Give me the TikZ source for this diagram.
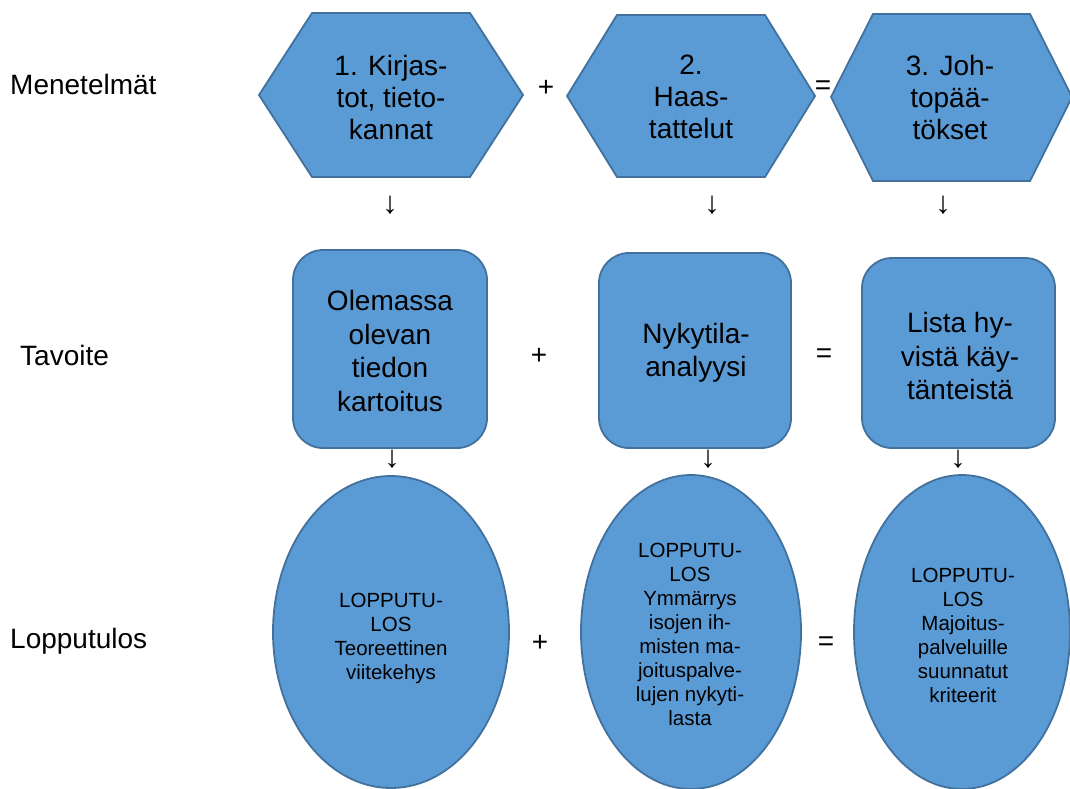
\documentclass[tikz,border=0pt]{standalone}
\usepackage{fontspec}
\setmainfont{Liberation Sans}
\definecolor{boxfill}{HTML}{5B9BD5}
\definecolor{boxline}{HTML}{41719C}
\begin{document}
\begin{tikzpicture}[x=1pt,y=-1pt,
  shapestyle/.style={fill=boxfill,draw=boxline,line width=1.8pt},
  bigtext/.style={font=\fontsize{28}{32}\selectfont,align=center,inner sep=0pt},
  midtext/.style={font=\fontsize{28}{33.5}\selectfont,align=center,inner sep=0pt},
  smalltext/.style={font=\fontsize{20.5}{24}\selectfont,align=center,inner sep=0pt},
  sidelabel/.style={font=\fontsize{28}{32}\selectfont,anchor=west,inner sep=0pt},
  signtext/.style={font=\fontsize{28}{32}\selectfont,inner sep=0pt},
  arrowglyph/.style={font=\fontsize{31}{34}\selectfont,inner sep=0pt}]
\useasboundingbox (0,0) rectangle (1070,789);
\clip (0,0) rectangle (1070,789);

% hexagons
\draw[shapestyle] (259,95) -- (312,13) -- (470,13) -- (523,95) -- (470,177) -- (312,177) -- cycle;
\draw[shapestyle] (567,96) -- (617,15) -- (765,15) -- (815,96) -- (765,177) -- (617,177) -- cycle;
\draw[shapestyle] (831,97) -- (873,14) -- (1030,14) -- (1072,97) -- (1030,181) -- (873,181) -- cycle;
\node[bigtext] (h1) at (391,97) {1. Kirjas-\\tot, tieto-\\kannat};
\node[bigtext] (h2) at (691,97) {2.\\Haas-\\tattelut};
\node[bigtext] (h3) at (950,97) {3. Joh-\\topää-\\tökset};

% rounded boxes
\draw[shapestyle,rounded corners=30pt] (293,250) rectangle (487,448);
\draw[shapestyle,rounded corners=30pt] (599,253) rectangle (791,448);
\draw[shapestyle,rounded corners=30pt] (862,258) rectangle (1055,448);
\node[midtext] (r1) at (390,351) {Olemassa\\olevan\\tiedon\\kartoitus};
\node[midtext] (r2) at (696,353) {Nykytila-\\analyysi};
\node[midtext] (r3) at (960,356) {Lista hy-\\vistä käy-\\tänteistä};

% ellipses
\draw[shapestyle] (391,632) ellipse [x radius=118pt, y radius=156pt];
\draw[shapestyle] (691,632) ellipse [x radius=110pt, y radius=157pt];
\draw[shapestyle] (962,632) ellipse [x radius=108pt, y radius=157pt];
\node[smalltext] (e1) at (391,638) {LOPPUTU-\\LOS\\Teoreettinen\\viitekehys};
\node[smalltext] (e2) at (690,634) {LOPPUTU-\\LOS\\Ymmärrys\\isojen ih-\\misten ma-\\joituspalve-\\lujen nykyti-\\lasta};
\node[smalltext] (e3) at (963,635) {LOPPUTU-\\LOS\\Majoitus-\\palveluille\\suunnatut\\kriteerit};

% side labels
\node[sidelabel] (l1) at (10,84) {Menetelmät};
\node[sidelabel] (l2) at (20,355) {Tavoite};
\node[sidelabel] (l3) at (10,641) {Lopputulos};

% signs
\node[signtext] (s1) at (546,88) {+};
\node[signtext] (s2) at (823,88) {=};
\node[signtext] (s3) at (539,356) {+};
\node[signtext] (s4) at (824,356) {=};
\node[signtext] (s5) at (540,643) {+};
\node[signtext] (s6) at (826,644) {=};

% arrow glyphs
\node[arrowglyph] (a1) at (390,205) {↓};
\node[arrowglyph] (a2) at (712,205) {↓};
\node[arrowglyph] (a3) at (943,205) {↓};
\node[arrowglyph] (a4) at (392,459) {↓};
\node[arrowglyph] (a5) at (708,459) {↓};
\node[arrowglyph] (a6) at (958,459) {↓};
\end{tikzpicture}
\end{document}
